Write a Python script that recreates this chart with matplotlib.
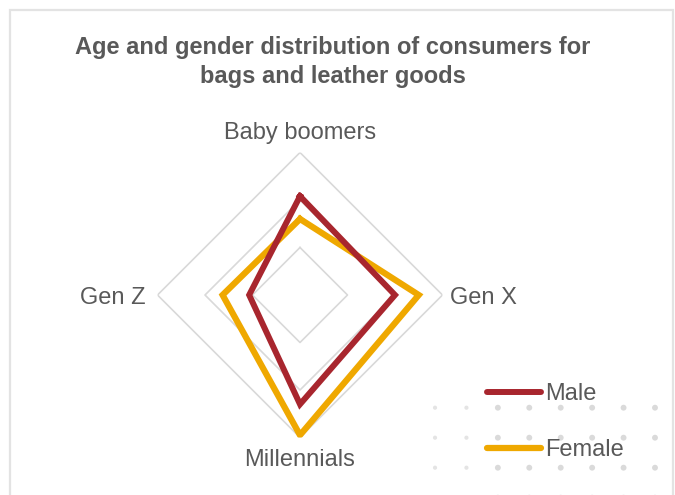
import numpy as np
import matplotlib
matplotlib.use("Agg")
import matplotlib.pyplot as plt
from matplotlib.patches import Rectangle

# ---- data ----
categories = ["Baby boomers", "Gen X", "Millennials", "Gen Z"]
male = [20.8, 20, 23, 10.7]
female = [16, 25, 29.5, 16.3]
ring_levels = [10, 20, 30]
title = "Age and gender distribution of consumers for\nbags and leather goods"

W, H = 675, 495
fig = plt.figure(figsize=(W / 100, H / 100), dpi=100)
fig.patch.set_facecolor("white")
plt.rcParams["font.family"] = ["Liberation Sans", "DejaVu Sans"]

TXT = "#595959"
GRID = "#d9d9d9"
C_MALE = "#a8262e"
C_FEM = "#efa800"

# border
fig.patches.append(Rectangle((9.5 / W, -0.1), (673 - 9.5) / W, (H - 10) / H + 0.1,
                             transform=fig.transFigure, fill=False,
                             edgecolor="#e3e3e3", linewidth=1.6, zorder=0))

# decorative dots
dax = fig.add_axes([419.3 / W, (H - 512.7) / H, 251.4 / W, 120 / H], zorder=0)
dax.set_xlim(-0.5, 7.5)
dax.set_ylim(3.5, -0.5)
dax.axis("off")
gx, gy = np.meshgrid(np.arange(8), np.arange(4))
sizes = np.where(gx < 2, 9, 18)
cols = np.where(gx.ravel() < 2, "#e4e4e4", "#dadada")
dax.scatter(gx.ravel(), gy.ravel(), s=sizes.ravel(), c=cols, linewidths=0, clip_on=False)

# radar axes
cx, cy, R = 300, 295, 142.5
ax = fig.add_axes([(cx - R) / W, (H - cy - R) / H, 2 * R / W, 2 * R / H],
                  projection="polar", zorder=2)
ax.set_facecolor("none")
ax.set_theta_zero_location("N")
ax.set_theta_direction(-1)
ax.set_ylim(0, ring_levels[-1])
ax.grid(False)
ax.spines["polar"].set_visible(False)
ax.set_xticks([])
ax.set_yticks([])

n = len(categories)
theta = np.arange(n) * 2 * np.pi / n
theta_c = np.append(theta, theta[0])

for lv in ring_levels:
    ax.plot(theta_c, [lv] * (n + 1), color=GRID, linewidth=1.2, zorder=1)

ax.plot(theta_c, male + male[:1], color=C_MALE, linewidth=4.3, solid_joinstyle="miter",
        label="Male", zorder=3)
ax.plot(theta_c, female + female[:1], color=C_FEM, linewidth=4.5, solid_joinstyle="miter",
        label="Female", zorder=2)

# category labels
label_r = [34.2, 31.5, 34.8, 32.6]
label_ha = ["center", "left", "center", "right"]
label_va = ["center", "center_baseline", "center", "center_baseline"]
for t, lab, r, ha, va in zip(theta, categories, label_r, label_ha, label_va):
    ax.text(t, r, lab, ha=ha, va=va, fontsize=17, color=TXT, clip_on=False)

# title
fig.text(333 / W, 1 - 62 / H, title, ha="center", va="center", fontsize=17,
         fontweight="bold", color=TXT, linespacing=1.32)

# legend
handles = ax.get_lines()[-2:]
leg = ax.legend(handles, ["Male", "Female"], loc="upper left",
                bbox_to_anchor=(487 / W, 1 - 383 / H), bbox_transform=fig.transFigure,
                frameon=False, fontsize=17, handlelength=2.3, handletextpad=0.17,
                labelspacing=1.43, borderpad=0, borderaxespad=0)
for t in leg.get_texts():
    t.set_color(TXT)
for h in leg.get_lines():
    h.set_solid_capstyle("round")

fig.savefig("out.png", dpi=100, facecolor="white")
